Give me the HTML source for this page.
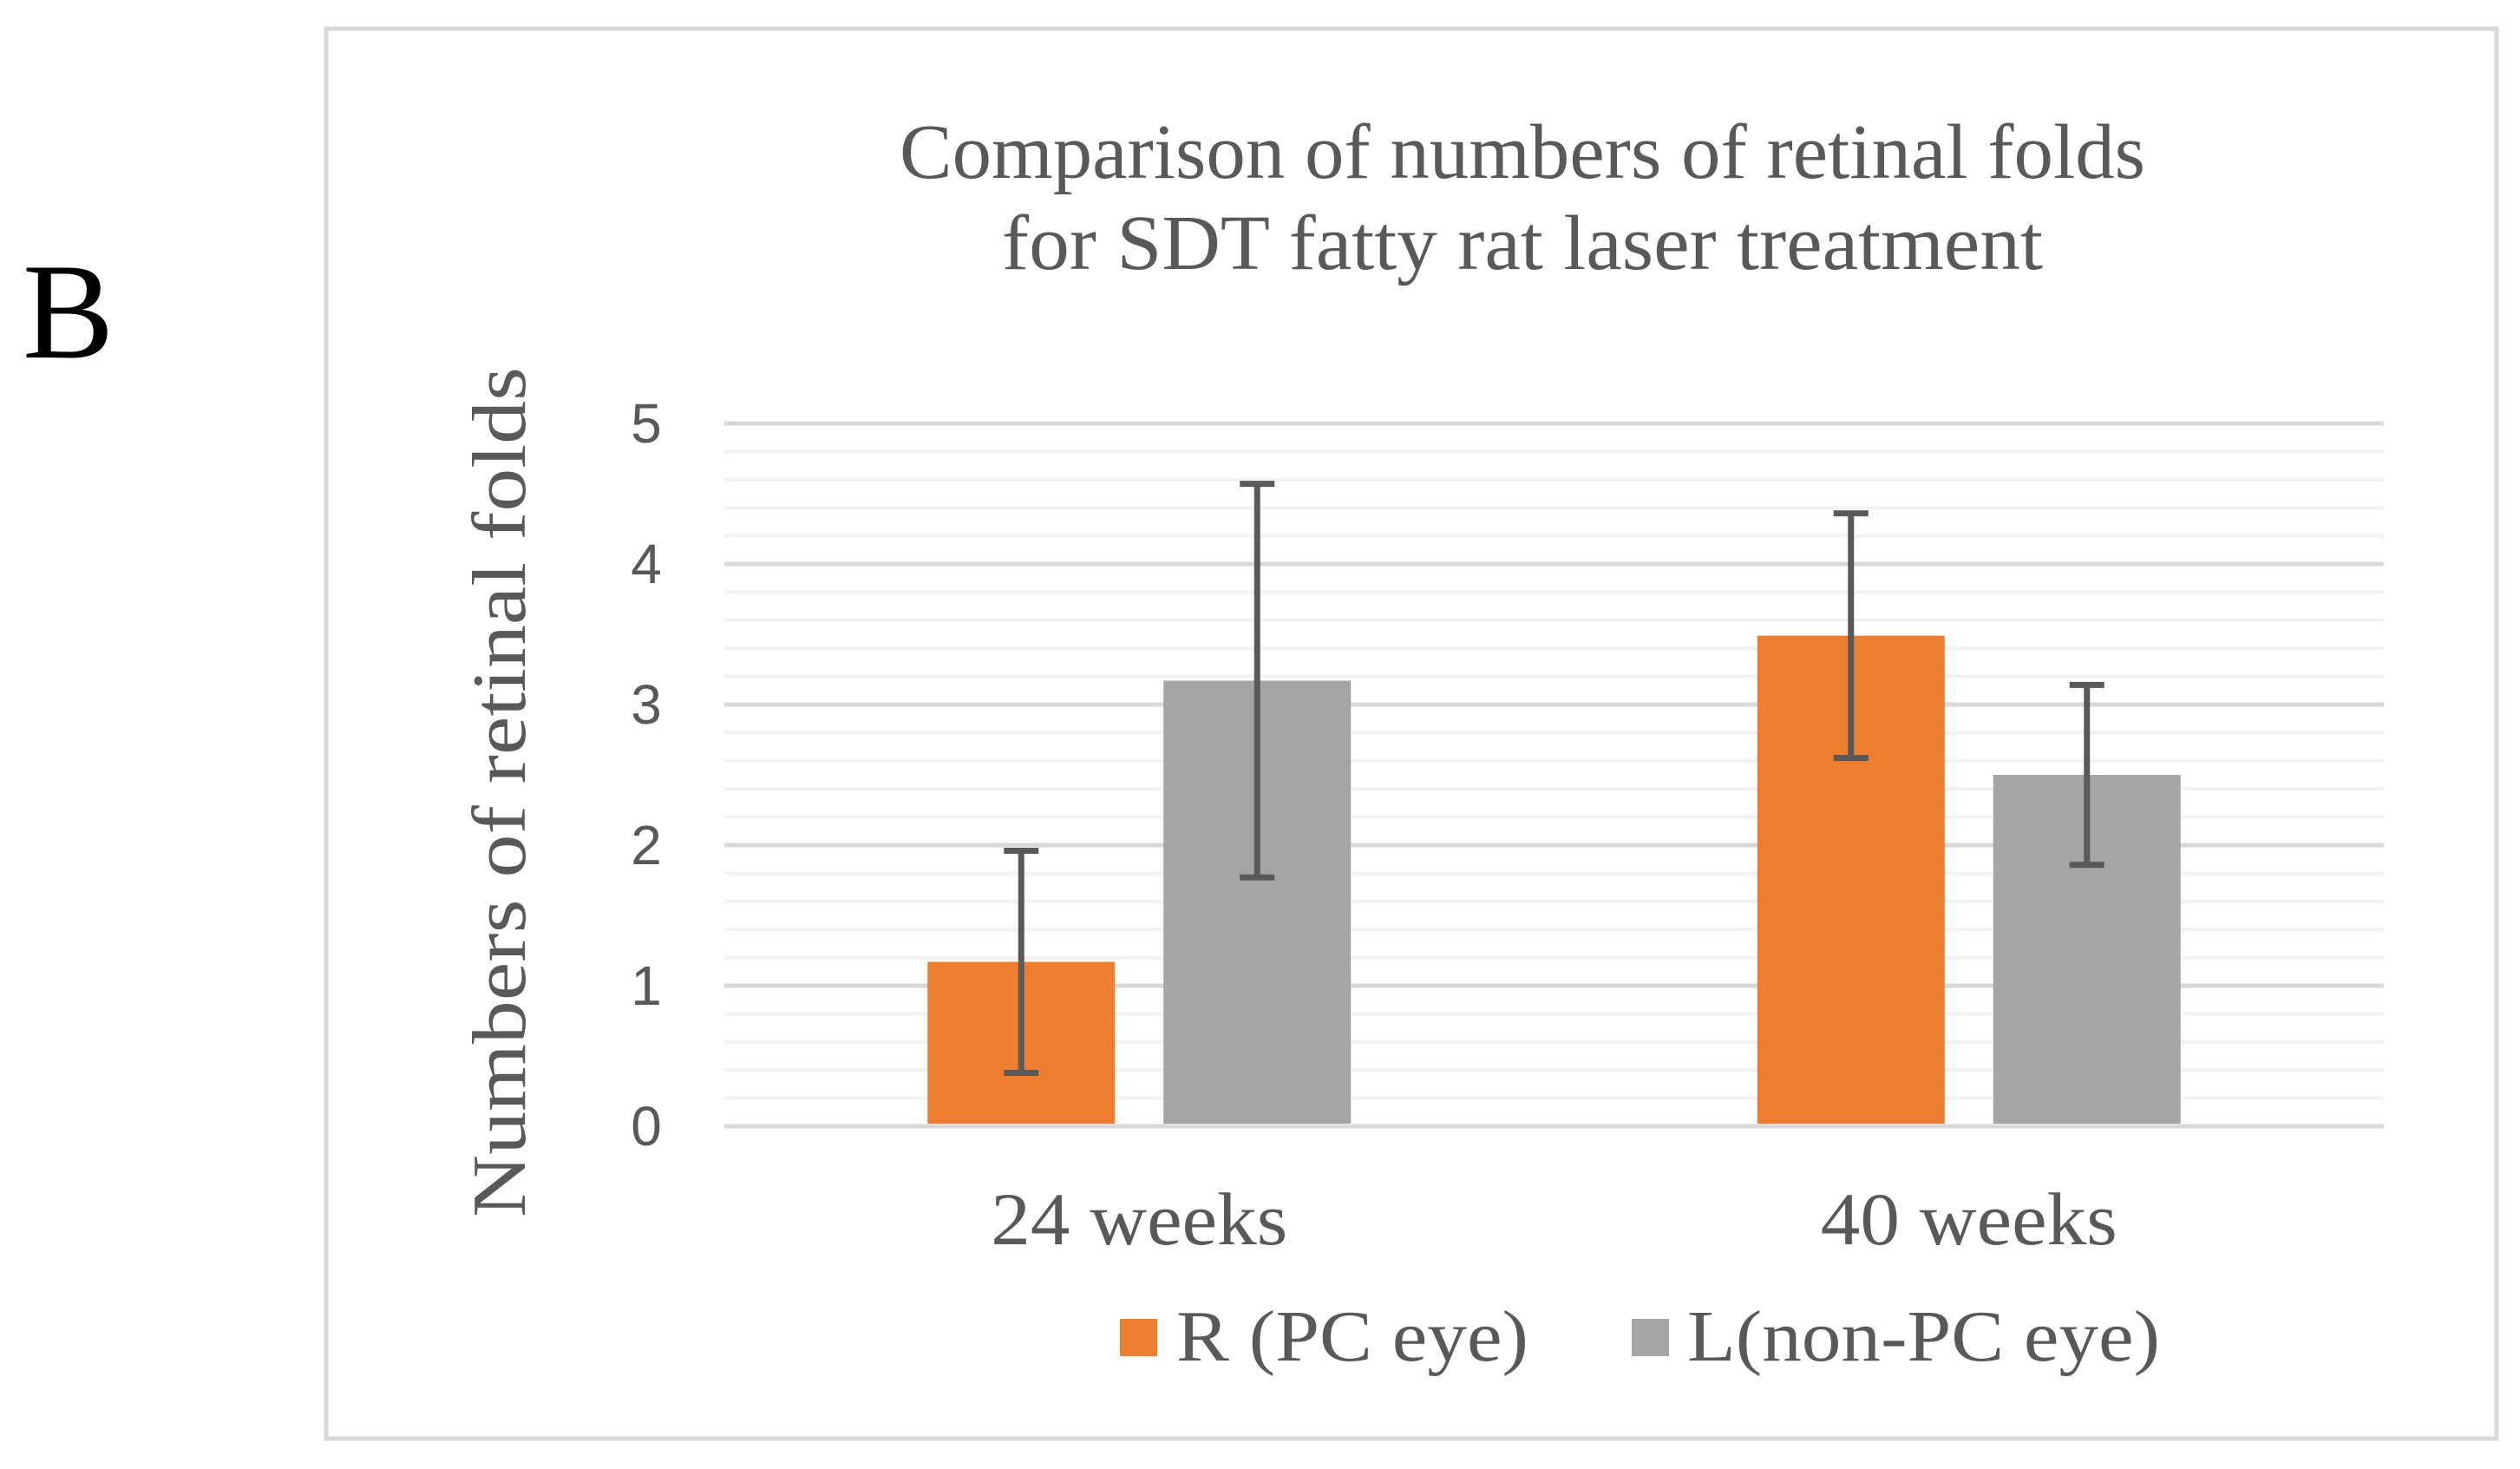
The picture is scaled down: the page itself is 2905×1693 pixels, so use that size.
<!DOCTYPE html>
<html><head><meta charset="utf-8"><style>
html,body{margin:0;padding:0;background:#fff;}
svg{display:block;}
</style></head><body>
<svg id="chart" width="2905" height="1693" xmlns="http://www.w3.org/2000/svg">
<text x="26" y="412" font-family="Liberation Serif, serif" font-size="158" fill="#000">B</text>
<rect x="376" y="33" width="2502" height="1625" fill="#fff" stroke="#d9d9d9" stroke-width="5"/>
<text x="1755" y="205" text-anchor="middle" font-family="Liberation Serif, serif" font-size="90" fill="#595959" textLength="1436" lengthAdjust="spacingAndGlyphs">Comparison of numbers of retinal folds</text>
<text x="1755" y="310" text-anchor="middle" font-family="Liberation Serif, serif" font-size="90" fill="#595959" textLength="1200" lengthAdjust="spacingAndGlyphs">for SDT fatty rat  laser treatment</text>
<text transform="translate(605,913) rotate(-90)" text-anchor="middle" font-family="Liberation Serif, serif" font-size="88" fill="#595959" textLength="980" lengthAdjust="spacingAndGlyphs">Numbers of retinal folds</text>
<g id="grid"></g>
<g id="bars"></g>
<g id="errs"></g>
<g id="labels"></g>
<rect x="1291" y="1520" width="43" height="43" fill="#ed7d31"/>
<text x="1356" y="1568" font-family="Liberation Serif, serif" font-size="84" fill="#595959" textLength="406" lengthAdjust="spacingAndGlyphs">R (PC eye)</text>
<rect x="1881" y="1520" width="43" height="43" fill="#a5a5a5"/>
<text x="1945" y="1568" font-family="Liberation Serif, serif" font-size="84" fill="#595959" textLength="545" lengthAdjust="spacingAndGlyphs">L(non-PC eye)</text>
</svg>
<script>
const categories = ["24 weeks", "40 weeks"];
const seriesR = [1.17, 3.49];
const seriesL = [3.17, 2.50];
const errR = [0.79, 0.87];
const errL = [1.40, 0.64];
const yTicks = [0, 1, 2, 3, 4, 5];
const NS = "http://www.w3.org/2000/svg";
const plotL = 835, plotR = 2748, y0px = 1298, y5px = 488, yMax = 5;
function y(v){ return y0px - (v / yMax) * (y0px - y5px); }
const groupW = (plotR - plotL) / categories.length;
function groupCenter(i){ return plotL + groupW * (i + 0.5); }
const barW = 216, gap = 56;
function mk(tag, attrs, parent){ const e = document.createElementNS(NS, tag); for (const k in attrs) e.setAttribute(k, attrs[k]); parent.appendChild(e); return e; }
const grid = document.getElementById('grid');
for (let k = 0; k <= 25; k++) {
  const v = k * 0.2;
  const major = k % 5 === 0;
  const ln = mk('line', {x1: plotL, x2: plotR, y1: y(v), y2: y(v), stroke: major ? '#d9d9d9' : '#f2f2f2', 'stroke-width': major ? 5 : 4}, grid);
  
  
}
const labels = document.getElementById('labels');
yTicks.forEach(t => {
  const tx = mk('text', {x: 745, y: y(t) + 22, 'text-anchor': 'middle', 'font-family': 'Liberation Sans, sans-serif', 'font-size': 64, fill: '#595959'}, labels);
  tx.textContent = t;
  
  
});
categories.forEach((c, i) => {
  const tx = mk('text', {x: groupCenter(i), y: 1434, 'text-anchor': 'middle', 'font-family': 'Liberation Serif, serif', 'font-size': 86, fill: '#595959', textLength: 342, lengthAdjust: 'spacingAndGlyphs'}, labels);
  tx.textContent = c;
  
  
});
const bars = document.getElementById('bars'), errs = document.getElementById('errs');
function drawSeries(vals, errv, color, offset, name){
  vals.forEach((v, i) => {
    const cx = groupCenter(i) + offset;
    const b = mk('rect', {x: cx - barW/2, y: y(v), width: barW, height: y(0) - y(v) - 3, fill: color}, bars);
    
    
    const hi = y(v + errv[i]), lo = y(v - errv[i]);
    const g = mk('g', {stroke: '#595959', 'stroke-width': 7}, errs);
    
    
    mk('line', {x1: cx, x2: cx, y1: hi, y2: lo}, g);
    mk('line', {x1: cx - 20, x2: cx + 20, y1: hi, y2: hi}, g);
    mk('line', {x1: cx - 20, x2: cx + 20, y1: lo, y2: lo}, g);
  });
}
drawSeries(seriesR, errR, '#ed7d31', -(barW + gap) / 2, 'r');
drawSeries(seriesL, errL, '#a5a5a5', (barW + gap) / 2, 'l');
</script>
</body></html>
